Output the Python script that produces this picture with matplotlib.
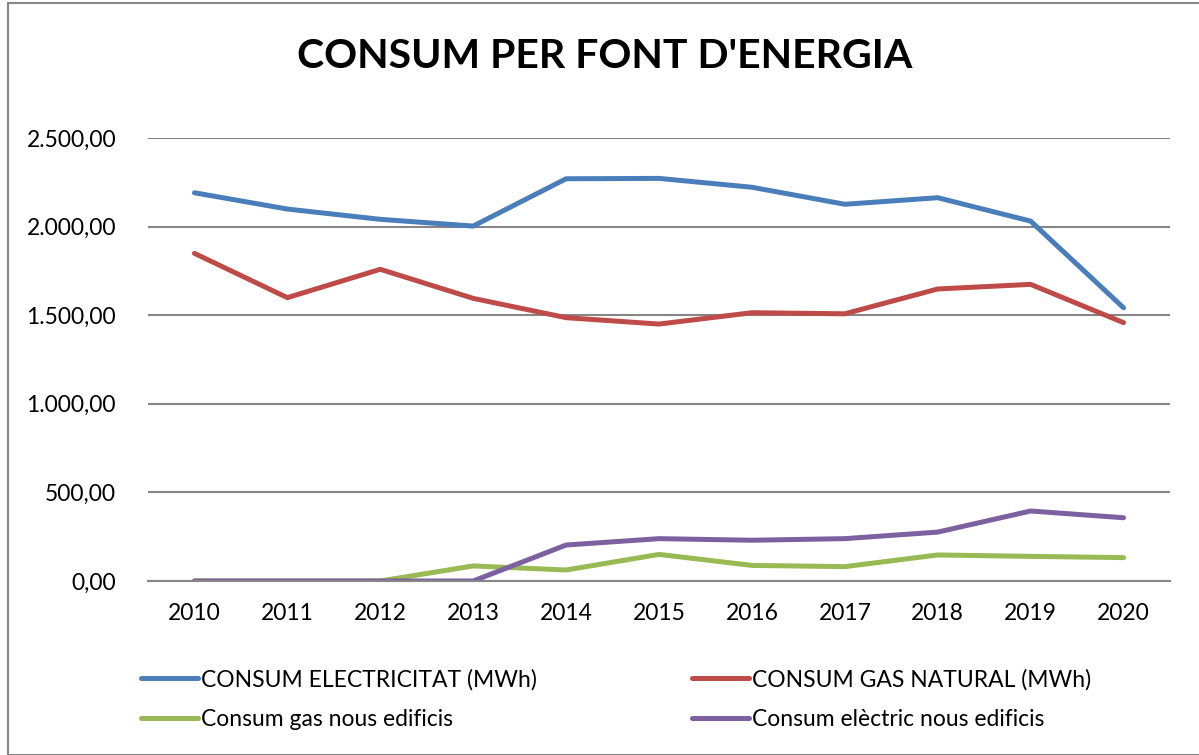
import matplotlib
matplotlib.use("Agg")
import matplotlib.pyplot as plt
from matplotlib.patches import Rectangle
from matplotlib.ticker import FuncFormatter

years = ["2010", "2011", "2012", "2013", "2014", "2015", "2016", "2017", "2018", "2019", "2020"]
electricitat = [2191, 2099, 2041, 2003, 2270, 2272, 2222, 2126, 2163, 2031, 1542]
gas_natural = [1849, 1599, 1759, 1595, 1486, 1450, 1514, 1508, 1648, 1674, 1458]
gas_nous = [0, 0, 0, 85, 62, 150, 88, 81, 147, 139, 132]
electric_nous = [0, 0, 0, 0, 203, 239, 230, 239, 276, 395, 357]

series_labels = ["CONSUM ELECTRICITAT (MWh)", "CONSUM GAS NATURAL (MWh)",
                 "Consum gas nous edificis", "Consum elèctric nous edificis"]
colors = ["#4A7EBB", "#BE4B48", "#98B954", "#7D60A0"]
title = "CONSUM PER FONT D'ENERGIA"

plt.rcParams['font.family'] = ['Lato', 'DejaVu Sans']

fig = plt.figure(figsize=(11.99, 7.55), dpi=100)
fig.patches.append(Rectangle((8/1199, 0), 1.0, 1 - 3/755, transform=fig.transFigure,
                             fill=False, edgecolor="#868686", linewidth=1.5, zorder=0))

ax = fig.add_axes([148/1199, 1 - 581/755, (1170 - 148)/1199, (581 - 138)/755])
x = list(range(len(years)))
lines = []
for vals, lab, c in zip([electricitat, gas_natural, gas_nous, electric_nous], series_labels, colors):
    ln, = ax.plot(x, vals, color=c, linewidth=3.6, label=lab, solid_capstyle="round", solid_joinstyle="round")
    lines.append(ln)

ax.set_xlim(-0.5, len(years) - 0.5)
ax.set_ylim(0, 2500)
ax.set_yticks([0, 500, 1000, 1500, 2000, 2500])

def fmt(v, pos):
    s = f"{v:,.2f}"
    return s.replace(",", "X").replace(".", ",").replace("X", ".")
ax.yaxis.set_major_formatter(FuncFormatter(fmt))
ax.set_xticks(x)
ax.set_xticklabels(years)
ax.grid(axis="y", color="#868686", linewidth=1.5)
ax.set_axisbelow(True)
for s in ["top", "right", "left"]:
    ax.spines[s].set_visible(False)
ax.spines["bottom"].set_color("#868686")
ax.spines["bottom"].set_linewidth(1.5)
ax.tick_params(axis="both", length=0, labelsize=16.5, colors="black")
ax.tick_params(axis="y", pad=23)
ax.tick_params(axis="x", pad=16)

fig.text(605/1199, 1 - 57/755, title, ha="center", va="center", fontsize=29.5, fontweight="bold")

order = [0, 2, 1, 3]
leg = ax.legend([lines[i] for i in order], [series_labels[i] for i in order],
                loc="upper left", bbox_to_anchor=(141/1199, 1 - 669/755), bbox_transform=fig.transFigure,
                ncol=2, frameon=False, fontsize=16.5, handlelength=2.5, handletextpad=0.12,
                columnspacing=6.75, labelspacing=0.8, borderaxespad=0, borderpad=0)

fig.savefig("out.png", dpi=100)
